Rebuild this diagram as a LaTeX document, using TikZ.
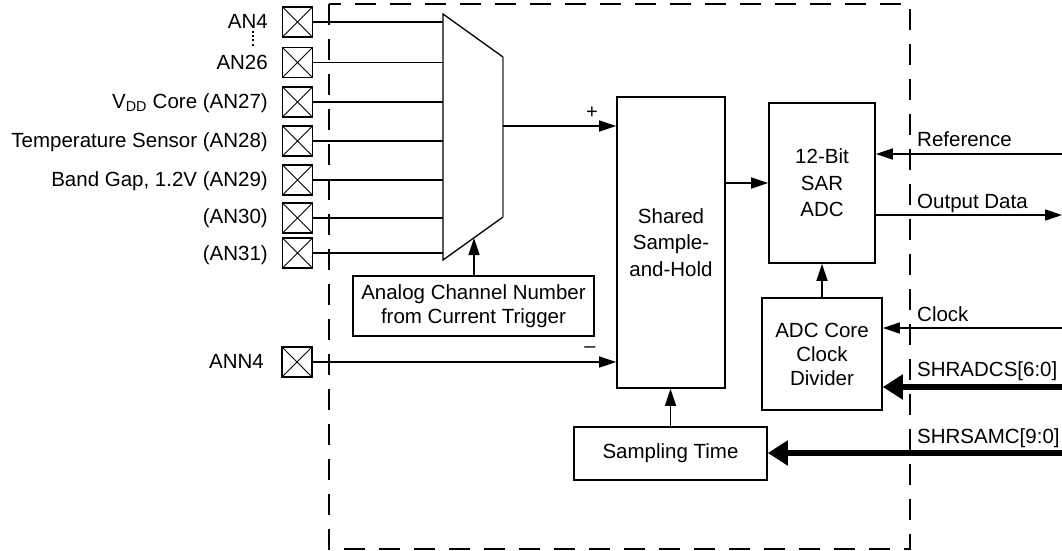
\documentclass[tikz,border=0pt]{standalone}
\usepackage{fontspec}
\setmainfont{Liberation Sans}
\usetikzlibrary{arrows.meta}
\tikzset{
  lbl/.style={font=\fontsize{20.5}{26}\selectfont, inner sep=0pt, text height=14.7pt, text depth=0pt},
  blk/.style={draw, line width=1.6pt, inner sep=0pt, align=center},
  pin/.style={draw, line width=1.6pt, minimum size=30pt, inner sep=0pt,
    path picture={\draw[line width=0.8pt] (path picture bounding box.north west) -- (path picture bounding box.south east)
      (path picture bounding box.north east) -- (path picture bounding box.south west);}},
  wire/.style={line width=1.5pt},
  sig/.style={line width=1.5pt, -{Triangle[length=17pt,width=11pt]}},
  bus/.style={line width=6pt, -{Triangle[length=20pt,width=24pt]}},
  frame/.style={line width=1.8pt, dash pattern=on 21pt off 14pt},
  sign/.style={inner sep=0pt, font=\fontsize{20}{20}\selectfont},
}
\begin{document}
\begin{tikzpicture}[x=1pt,y=-1pt]
\useasboundingbox (0,0) rectangle (1062,550);
% frame
\draw[frame] (329,4) rectangle (910,549);
% pins
\node[pin] (p1) at (297.5,22) {};
\node[pin] (p2) at (297.5,62.5) {};
\node[pin] (p3) at (297.5,102) {};
\node[pin] (p4) at (297.5,141) {};
\node[pin] (p5) at (297.5,180) {};
\node[pin] (p6) at (297.5,218) {};
\node[pin] (p7) at (297.5,253) {};
\node[pin] (pn) at (297,362) {};
% pin labels
\node[lbl, anchor=east] (l1) at (268,21) {AN4};
\node[lbl, anchor=east] (l2) at (268,62.5) {AN26};
\node[lbl, anchor=east] (l3) at (268,101) {V\textsubscript{DD} Core (AN27)};
\node[lbl, anchor=east] (l4) at (268,140) {Temperature Sensor (AN28)};
\node[lbl, anchor=east] (l5) at (268,179) {Band Gap, 1.2V (AN29)};
\node[lbl, anchor=east] (l6) at (268,216.5) {(AN30)};
\node[lbl, anchor=east] (l7) at (268,253) {(AN31)};
\node[lbl, anchor=east] (ln) at (264,361) {ANN4};
\draw[line width=2.2pt, dash pattern=on 2pt off 2.2pt] (253,31) -- (253,46);
% mux
\coordinate (m1) at (443,14);
\coordinate (m2) at (503,57);
\coordinate (m3) at (503,217);
\coordinate (m4) at (443,260);
\draw[line width=1.3pt] (m2) -- (m1) -- (m4) -- (m3);
\draw[line width=1.3pt, black!55] (m2) -- (m3);
\foreach \i in {1,...,7} { \draw[wire] (p\i.east) -- (p\i.east -| m1); }
% blocks
\node[blk, minimum width=108pt, minimum height=291pt, font=\fontsize{20.5}{26.5}\selectfont] (sh) at (671,242.5) {Shared\\Sample-\\and-Hold};
\node[blk, minimum width=106pt, minimum height=160pt, font=\fontsize{20.5}{26.5}\selectfont] (adc) at (822,183) {12-Bit\\SAR\\ADC};
\node[blk, minimum width=120pt, minimum height=112pt, font=\fontsize{20.5}{24}\selectfont] (clk) at (822,354) {ADC Core\\Clock\\Divider};
\node[blk, minimum width=193pt, minimum height=53pt, font=\fontsize{20.5}{24}\selectfont] (samp) at (670.5,453.5) {Sampling Time};
\node[blk, minimum width=241pt, minimum height=60pt, font=\fontsize{20.5}{23.5}\selectfont] (acn) at (473.5,306) {Analog Channel Number\\from Current Trigger};
% internal connectors
\coordinate (mo) at (503,126);
\draw[sig] (mo) -- (mo -| sh.west);
\node[sign] (plus) at (592,113) {+};
\draw[sig] (pn.east) -- (pn.east -| sh.west);
\node[sign] (minus) at (590,350) {–};
\coordinate (msel) at (474,238);
\draw[sig] (acn.north -| msel) -- (msel);
\draw[sig] (adc.west -| sh.east) -- (adc.west);
\draw[sig] (clk.north) -- (adc.south);
\draw[sig] (samp.north) -- (samp.north |- sh.south);
% external signals
\coordinate (rref) at (1062,154);
\coordinate (rout) at (1062,215);
\coordinate (rclk) at (1062,328);
\coordinate (rsh) at (1062,387);
\coordinate (rsam) at (1062,453);
\draw[sig] (rref) -- (rref -| adc.east);
\draw[sig] (rout -| adc.east) -- (rout);
\draw[sig] (rclk) -- (rclk -| clk.east);
\draw[bus] (rsh) -- (rsh -| clk.east);
\draw[bus] (rsam) -- (rsam -| samp.east);
\node[lbl, anchor=west] (tref) at (917,139) {Reference};
\node[lbl, anchor=west] (tout) at (917,201) {Output Data};
\node[lbl, anchor=west] (tclk) at (917,314) {Clock};
\node[lbl, anchor=west] (tsh) at (917,369.5) {SHRADCS[6:0]};
\node[lbl, anchor=west] (tsam) at (917,436.5) {SHRSAMC[9:0]};
\end{tikzpicture}
\end{document}
